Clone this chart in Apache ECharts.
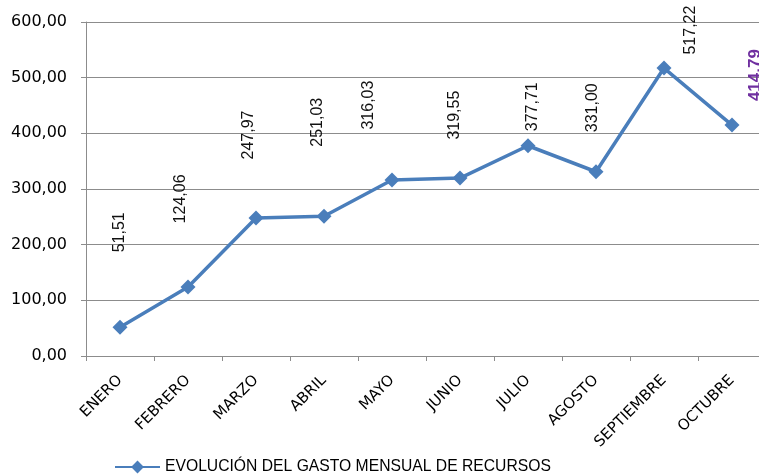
<!DOCTYPE html>
<html>
<head>
<meta charset="utf-8">
<script src="https://cdn.jsdelivr.net/npm/echarts@6/dist/echarts.min.js"></script>
<style>
  html, body { margin: 0; padding: 0; background: #fff; }
  #chart { width: 759px; height: 476px; }
</style>
</head>
<body>
<div id="chart"></div>
<script>
/* global echarts */

const MONTHS = ["ENERO", "FEBRERO", "MARZO", "ABRIL", "MAYO", "JUNIO", "JULIO", "AGOSTO", "SEPTIEMBRE", "OCTUBRE"];
const GASTO = [51.51, 124.06, 247.97, 251.03, 316.03, 319.55, 377.71, 331.0, 517.22, 414.79];
const Y_TICKS = [0, 100, 200, 300, 400, 500, 600];
const SERIES_NAME = "EVOLUCIÓN DEL GASTO MENSUAL DE RECURSOS";

// where each value label sits relative to its marker, in screen pixels
const LABEL_SHIFT = [[0, -95], [-7, -88], [-7, -83], [-6, -94], [-23, -75], [-5, -63], [5, -39], [-3, -64], [27, -38], [23, -50]];

const LINE_COLOR = "#4a7ebb";
const GRID_COLOR = "#8c8c8c";

function fmt(value) {
  return value.toFixed(2).replace(".", ",");
}

const chart = echarts.init(document.getElementById("chart"), null, { renderer: "canvas" });

const points = GASTO.map((value, idx) => {
  const shift = LABEL_SHIFT[idx];
  const last = idx === GASTO.length - 1;
  return {
    value,
    label: {
      offset: [-shift[1], shift[0]],
      color: last ? "#7030a0" : "#111",
      fontWeight: last ? "bold" : "normal",
      fontSize: last ? 17 : 16,
    },
  };
});

chart.setOption({
  animation: false,
  grid: { left: 86, top: 22, width: 680, height: 334, outerBoundsMode: "none" },
  xAxis: {
    type: "category",
    data: MONTHS,
    boundaryGap: true,
    axisLine: { lineStyle: { color: GRID_COLOR, width: 1 } },
    axisTick: { show: true, length: 5, alignWithLabel: false, lineStyle: { color: GRID_COLOR } },
    axisLabel: {
      rotate: 45,
      interval: 0,
      margin: 22,
      color: "#000",
      fontFamily: "DejaVu Sans",
      fontSize: 15,
    },
  },
  yAxis: {
    type: "value",
    min: Y_TICKS[0],
    max: Y_TICKS[Y_TICKS.length - 1],
    interval: Y_TICKS[1] - Y_TICKS[0],
    axisLine: { show: true, lineStyle: { color: GRID_COLOR, width: 1 } },
    axisTick: { show: true, length: 5, lineStyle: { color: GRID_COLOR } },
    splitLine: { lineStyle: { color: GRID_COLOR, width: 1 } },
    axisLabel: {
      margin: 19,
      color: "#000",
      fontFamily: "DejaVu Sans",
      fontSize: 16,
      formatter: (v) => fmt(v),
    },
  },
  legend: {
    left: 109,
    top: 454,
    itemWidth: 45,
    itemHeight: 16,
    itemGap: 4,
    textStyle: { color: "#000", fontFamily: "Liberation Sans", fontSize: 15.7 },
    data: [SERIES_NAME],
  },
  series: [
    {
      name: SERIES_NAME,
      type: "line",
      data: points,
      symbol: "diamond",
      symbolSize: 15,
      lineStyle: { color: LINE_COLOR, width: 3.5 },
      itemStyle: { color: LINE_COLOR },
      label: {
        show: true,
        position: "inside",
        rotate: 90,
        align: "center",
        verticalAlign: "middle",
        fontFamily: "Liberation Sans",
        formatter: (p) => fmt(p.value),
      },
    },
  ],
});
</script>
</body>
</html>
